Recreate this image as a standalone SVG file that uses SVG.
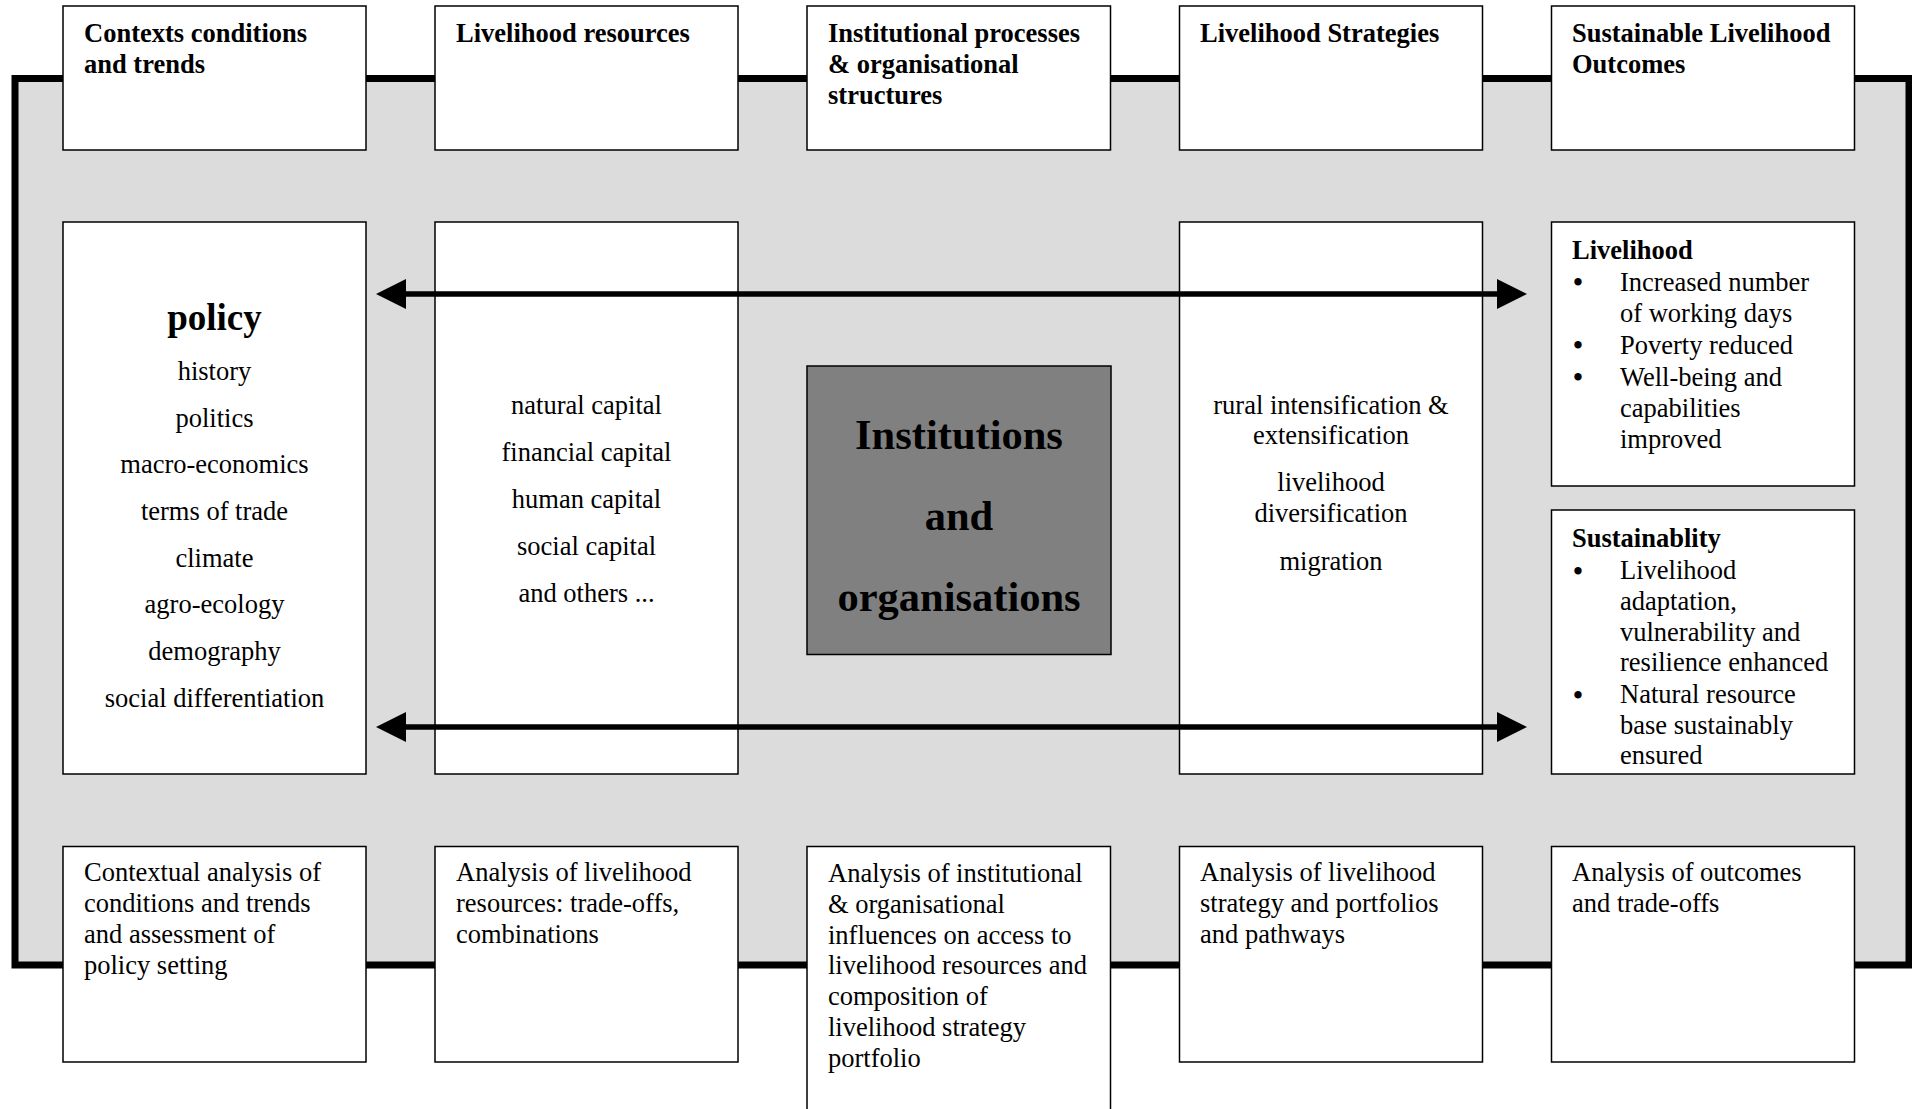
<svg xmlns="http://www.w3.org/2000/svg" width="1912" height="1109" viewBox="0 0 1912 1109">
<style>
.bg{fill:#dcdcdc;stroke:#000;stroke-width:7}
.box{fill:#fff;stroke:#000;stroke-width:1.5}
.dark{fill:#808080;stroke:#000;stroke-width:1.5}
.h{font-family:"Liberation Serif","Times New Roman",serif;font-weight:bold;font-size:26.5px;fill:#000}
.t{font-family:"Liberation Serif","Times New Roman",serif;font-size:26.5px;fill:#000}
.b{font-family:"Liberation Serif","Times New Roman",serif;font-weight:bold;font-size:27px;fill:#000;text-anchor:middle}
.c{text-anchor:middle}
.big{font-family:"Liberation Serif","Times New Roman",serif;font-weight:bold;font-size:42.5px;fill:#000}
.pol{font-family:"Liberation Serif","Times New Roman",serif;font-weight:bold;font-size:37px;fill:#000}
.arr{stroke:#000;stroke-width:5.5;fill:none}
</style>
<defs>
<marker id="head" markerUnits="userSpaceOnUse" markerWidth="30" markerHeight="30" refX="0" refY="15" orient="auto-start-reverse" viewBox="0 0 30 30">
<path d="M0,0 L30,15 L0,30 z" fill="#000"/>
</marker>
</defs>
<rect class="bg" x="15" y="78.5" width="1894" height="886.5"/>

<g id="top-contexts">
<rect class="box" x="63" y="6" width="303" height="144"/>
<text class="h" x="84" y="42">Contexts conditions</text>
<text class="h" x="84" y="73">and trends</text>
</g>
<g id="top-resources">
<rect class="box" x="435" y="6" width="303" height="144"/>
<text class="h" x="456" y="42">Livelihood resources</text>
</g>
<g id="top-institutional">
<rect class="box" x="807" y="6" width="303.5" height="144"/>
<text class="h" x="828" y="42">Institutional processes</text>
<text class="h" x="828" y="73">&amp; organisational</text>
<text class="h" x="828" y="104">structures</text>
</g>
<g id="top-strategies">
<rect class="box" x="1179.5" y="6" width="303" height="144"/>
<text class="h" x="1200" y="42">Livelihood Strategies</text>
</g>
<g id="top-outcomes">
<rect class="box" x="1551.5" y="6" width="303" height="144"/>
<text class="h" x="1572" y="42">Sustainable Livelihood</text>
<text class="h" x="1572" y="73">Outcomes</text>
</g>

<g id="mid-context">
<rect class="box" x="63" y="222" width="303" height="552"/>
<text class="pol c" x="214.5" y="330">policy</text>
<text class="t c" x="214.5" y="379.5">history</text>
<text class="t c" x="214.5" y="426.5">politics</text>
<text class="t c" x="214.5" y="473">macro-economics</text>
<text class="t c" x="214.5" y="519.5">terms of trade</text>
<text class="t c" x="214.5" y="566.5">climate</text>
<text class="t c" x="214.5" y="613">agro-ecology</text>
<text class="t c" x="214.5" y="659.5">demography</text>
<text class="t c" x="214.5" y="706.5">social differentiation</text>
</g>
<g id="mid-resources">
<rect class="box" x="435" y="222" width="303" height="552"/>
<text class="t c" x="586.5" y="414">natural capital</text>
<text class="t c" x="586.5" y="461">financial capital</text>
<text class="t c" x="586.5" y="508">human capital</text>
<text class="t c" x="586.5" y="554.5">social capital</text>
<text class="t c" x="586.5" y="601.5">and others ...</text>
</g>
<g id="mid-institutions">
<rect class="dark" x="807" y="366" width="304" height="288.5"/>
<text class="big c" x="959" y="449">Institutions</text>
<text class="big c" x="959" y="530">and</text>
<text class="big c" x="959" y="611">organisations</text>
</g>
<g id="mid-strategies">
<rect class="box" x="1179.5" y="222" width="303" height="552"/>
<text class="t c" x="1331" y="413.5">rural intensification &amp;</text>
<text class="t c" x="1331" y="444">extensification</text>
<text class="t c" x="1331" y="491">livelihood</text>
<text class="t c" x="1331" y="521.5">diversification</text>
<text class="t c" x="1331" y="569.5">migration</text>
</g>
<g id="mid-livelihood">
<rect class="box" x="1551.5" y="222" width="303" height="264"/>
<text class="h" x="1572" y="258.5">Livelihood</text>
<text class="b" x="1578" y="291">•</text>
<text class="t" x="1620" y="290.5">Increased number</text>
<text class="t" x="1620" y="321.5">of working days</text>
<text class="b" x="1578" y="354">•</text>
<text class="t" x="1620" y="353.5">Poverty reduced</text>
<text class="b" x="1578" y="386">•</text>
<text class="t" x="1620" y="385.5">Well-being and</text>
<text class="t" x="1620" y="416.5">capabilities</text>
<text class="t" x="1620" y="447.5">improved</text>
</g>
<g id="mid-sustainability">
<rect class="box" x="1551.5" y="510" width="303" height="264"/>
<text class="h" x="1572" y="547">Sustainablity</text>
<text class="b" x="1578" y="579.5">•</text>
<text class="t" x="1620" y="579">Livelihood</text>
<text class="t" x="1620" y="610">adaptation,</text>
<text class="t" x="1620" y="640.5">vulnerability and</text>
<text class="t" x="1620" y="671">resilience enhanced</text>
<text class="b" x="1578" y="703.5">•</text>
<text class="t" x="1620" y="703">Natural resource</text>
<text class="t" x="1620" y="733.5">base sustainably</text>
<text class="t" x="1620" y="764">ensured</text>
</g>

<g id="connectors">
<line class="arr" x1="406" y1="294" x2="1497" y2="294" marker-start="url(#head)" marker-end="url(#head)"/>
<line class="arr" x1="406" y1="727" x2="1497" y2="727" marker-start="url(#head)" marker-end="url(#head)"/>
</g>

<g id="bot-context">
<rect class="box" x="63" y="846.5" width="303" height="215.5"/>
<text class="t" x="84" y="881">Contextual analysis of</text>
<text class="t" x="84" y="912">conditions and trends</text>
<text class="t" x="84" y="943">and assessment of</text>
<text class="t" x="84" y="974">policy setting</text>
</g>
<g id="bot-resources">
<rect class="box" x="435" y="846.5" width="303" height="215.5"/>
<text class="t" x="456" y="881">Analysis of livelihood</text>
<text class="t" x="456" y="912">resources: trade-offs,</text>
<text class="t" x="456" y="943">combinations</text>
</g>
<g id="bot-institutional">
<rect class="box" x="807" y="846.5" width="303.5" height="280"/>
<text class="t" x="828" y="881.5">Analysis of institutional</text>
<text class="t" x="828" y="912.5">&amp; organisational</text>
<text class="t" x="828" y="943.5">influences on access to</text>
<text class="t" x="828" y="974">livelihood resources and</text>
<text class="t" x="828" y="1005">composition of</text>
<text class="t" x="828" y="1036">livelihood strategy</text>
<text class="t" x="828" y="1066.5">portfolio</text>
</g>
<g id="bot-strategies">
<rect class="box" x="1179.5" y="846.5" width="303" height="215.5"/>
<text class="t" x="1200" y="881">Analysis of livelihood</text>
<text class="t" x="1200" y="912">strategy and portfolios</text>
<text class="t" x="1200" y="943">and pathways</text>
</g>
<g id="bot-outcomes">
<rect class="box" x="1551.5" y="846.5" width="303" height="215.5"/>
<text class="t" x="1572" y="881">Analysis of outcomes</text>
<text class="t" x="1572" y="912">and trade-offs</text>
</g>
</svg>
